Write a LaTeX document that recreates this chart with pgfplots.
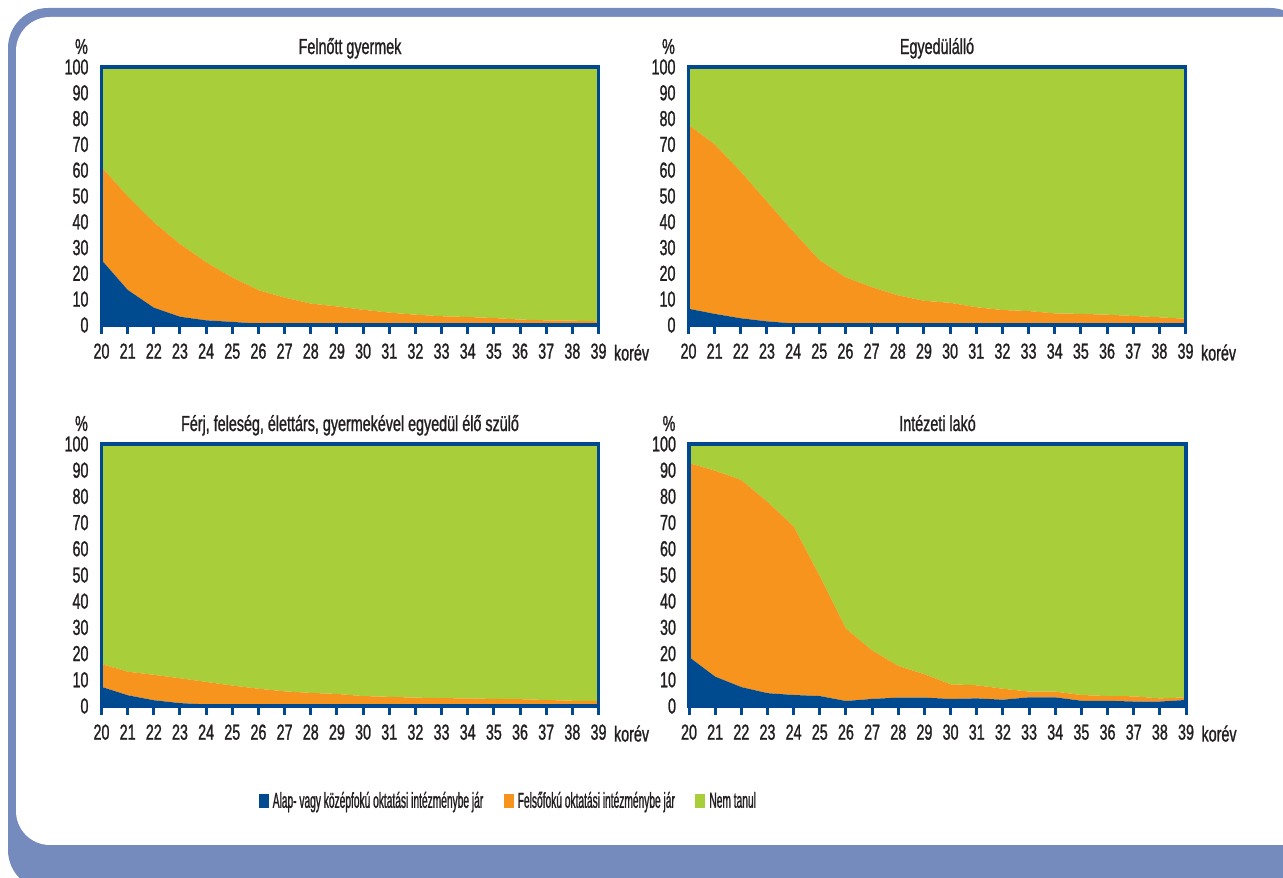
\documentclass[border=0pt]{standalone}
\usepackage{fontspec}
\setmainfont{Liberation Sans}[FakeStretch=0.66, FakeBold=1.1]
\newfontfamily\legfont{Liberation Sans}[FakeStretch=0.47, FakeBold=1.1]
\usepackage{pgfplots}
\usepackage{pgfplotstable}
\pgfplotsset{compat=1.18}
\definecolor{axblue}{HTML}{004990}
\definecolor{cblue}{HTML}{004A8F}
\definecolor{corange}{HTML}{F7941E}
\definecolor{cgreen}{HTML}{A8CE3A}
\definecolor{framecol}{HTML}{758BBE}
\definecolor{txt}{HTML}{231F20}
\newcommand\ticksize{\fontsize{21.8}{25}\selectfont}

% x = age, a = Alap- vagy kozepfoku, f = Felsofoku, n = Nem tanul
\pgfplotstableread{
x a f n
20 25.2 36.0 38.8
21 13.6 36.3 50.1
22 6.7 33.1 60.2
23 3.2 28.2 68.6
24 1.8 22.5 75.7
25 1.2 17.2 81.6
26 0.5 13.0 86.5
27 0.5 10.1 89.4
28 0.4 7.9 91.7
29 0.4 6.8 92.8
30 0.3 5.6 94.1
31 0.3 4.5 95.2
32 0.3 3.7 96.0
33 0.3 3.1 96.6
34 0.3 2.8 96.9
35 0.3 2.4 97.3
36 0.2 1.9 97.9
37 0.2 1.6 98.2
38 0.2 1.5 98.3
39 0.2 1.2 98.6
}\tabA
\pgfplotstableread{
x a f n
20 6.3 71.2 22.5
21 4.3 65.7 30.0
22 2.6 56.8 40.6
23 1.4 46.4 52.2
24 0.6 35.6 63.8
25 0.3 24.9 74.8
26 0.2 18.3 81.5
27 0.2 14.5 85.3
28 0.2 11.3 88.5
29 0.2 9.2 90.6
30 0.2 8.4 91.4
31 0.2 6.7 93.1
32 0.2 5.6 94.2
33 0.2 5.2 94.6
34 0.2 4.3 95.5
35 0.2 4.1 95.7
36 0.2 3.8 96.0
37 0.2 3.3 96.5
38 0.2 2.8 97.0
39 0.2 2.2 97.6
}\tabB
\pgfplotstableread{
x a f n
20 7.3 8.7 84.0
21 4.1 9.0 86.9
22 2.2 9.7 88.1
23 1.1 9.5 89.4
24 0.6 8.6 90.8
25 0.4 7.4 92.2
26 0.2 6.4 93.4
27 0.2 5.4 94.4
28 0.2 4.8 95.0
29 0.2 4.4 95.4
30 0.2 3.6 96.2
31 0.2 3.3 96.5
32 0.2 3.0 96.8
33 0.2 2.8 97.0
34 0.2 2.7 97.1
35 0.2 2.5 97.3
36 0.2 2.4 97.4
37 0.2 2.1 97.7
38 0.2 1.8 98.0
39 0.2 1.7 98.1
}\tabC
\pgfplotstableread{
x a f n
20 18.7 74.0 7.3
21 11.2 78.6 10.2
22 7.2 79.0 13.8
23 4.9 73.0 22.1
24 4.2 64.3 31.5
25 3.8 45.7 50.5
26 1.9 27.6 70.5
27 2.7 18.5 78.8
28 3.2 12.1 84.7
29 3.2 8.9 87.9
30 2.7 5.6 91.7
31 2.9 5.0 92.1
32 2.4 4.2 93.4
33 3.3 2.2 94.5
34 3.3 2.2 94.5
35 2.0 2.2 95.8
36 2.0 1.8 96.2
37 1.7 2.0 96.3
38 1.7 1.2 97.1
39 2.3 1.0 96.7
}\tabD

\pgfplotsset{
  myax/.style={
    scale only axis, width=497bp, height=258bp,
    xmin=20, xmax=39, ymin=0, ymax=100,
    stack plots=y, axis on top, clip=false,
    axis line style={draw=axblue, line width=3.5bp, line cap=rect},
    xtick={20,...,39}, ytick={0,10,...,100},
    xtick pos=bottom, ytick pos=left,
    tick align=outside, major tick length=9bp,
    xtick style={draw=axblue, line width=3bp},
    ytick style={draw=none},
    tick label style={font=\ticksize, text=txt},
    xticklabel style={yshift=-6bp},
    yticklabel style={xshift=-0.5bp},
    /pgf/number format/assume math mode=true,
    title style={at={(0.5,1)}, anchor=base, yshift=7bp, font=\ticksize, text=txt},
  },
  blueA/.style={fill=cblue, draw=none},
  orangeA/.style={fill=corange, draw=none},
  greenA/.style={fill=cgreen, draw=none},
}
\newcommand\extras{%
  \node[anchor=base, font=\ticksize, text=txt] at (rel axis cs:0,1) [xshift=-20bp, yshift=13bp] {\%};
  \node[anchor=base west, font=\ticksize, text=txt] at (rel axis cs:1,0) [xshift=12bp, yshift=-35.5bp] {korév};
}

\begin{document}
\begin{tikzpicture}[x=1bp,y=1bp]
\useasboundingbox (0,0) rectangle (1283,878);
\begin{scope}
\clip (0,0) rectangle (1283,878);
\fill[framecol, rounded corners=40bp] (8,-12) rectangle (1310,870);
\fill[white, rounded corners=34bp] (16,33) rectangle (1400,861);
\end{scope}

\begin{axis}[myax, at={(101.5bp,553bp)}, anchor=south west, title={Felnőtt gyermek}]
\addplot[blueA] table[x=x,y=a]{\tabA} \closedcycle;
\addplot[orangeA] table[x=x,y=f]{\tabA} \closedcycle;
\addplot[greenA] table[x=x,y=n]{\tabA} \closedcycle;
\extras
\end{axis}

\begin{axis}[myax, at={(688.5bp,553bp)}, anchor=south west, title={Egyedülálló}]
\addplot[blueA] table[x=x,y=a]{\tabB} \closedcycle;
\addplot[orangeA] table[x=x,y=f]{\tabB} \closedcycle;
\addplot[greenA] table[x=x,y=n]{\tabB} \closedcycle;
\extras
\end{axis}

\begin{axis}[myax, height=262bp, at={(101.5bp,172bp)}, anchor=south west,
  title={Férj, feleség, élettárs, gyermekével egyedül élő szülő},
  legend columns=3,
  legend style={at={(0.31,-0.361)}, anchor=west, draw=none, fill=none,
    font=\legfont\ticksize, text=txt,
    /tikz/every odd column/.append style={column sep=2bp},
    /tikz/every even column/.append style={column sep=18.5bp}},
  legend image code/.code={\fill[#1] (0bp,-7bp) rectangle (10bp,7bp);},
  ]
\addplot[blueA] table[x=x,y=a]{\tabC} \closedcycle;
\addlegendentry{Alap- vagy középfokú oktatási intézménybe jár}
\addplot[orangeA] table[x=x,y=f]{\tabC} \closedcycle;
\addlegendentry{Felsőfokú oktatási intézménybe jár}
\addplot[greenA] table[x=x,y=n]{\tabC} \closedcycle;
\addlegendentry{Nem tanul}
\extras
\end{axis}

\begin{axis}[myax, height=262bp, at={(689bp,172bp)}, anchor=south west, title={Intézeti lakó}]
\addplot[blueA] table[x=x,y=a]{\tabD} \closedcycle;
\addplot[orangeA] table[x=x,y=f]{\tabD} \closedcycle;
\addplot[greenA] table[x=x,y=n]{\tabD} \closedcycle;
\extras
\end{axis}
\end{tikzpicture}
\end{document}
